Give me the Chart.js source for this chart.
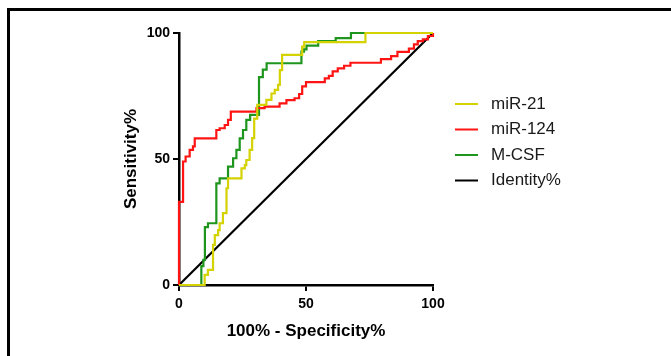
<!DOCTYPE html>
<html>
<head>
<meta charset="utf-8">
<script src="https://cdn.jsdelivr.net/npm/chart.js@4/dist/chart.umd.min.js"></script>
<style>
  body { margin: 0; background: #fff; overflow: hidden; }
  #frame { position: absolute; left: 7px; top: 8px; width: 700px; height: 400px; border: 3px solid #000; }
  #wrap { position: absolute; left: 0; top: 0; width: 671px; height: 356px; }
</style>
</head>
<body>
<div id="frame"></div>
<div id="wrap"><canvas id="chart" width="671" height="356"></canvas></div>
<script>
// ROC curves, x = 100% - specificity, y = sensitivity
const mir21X = [0, 10.1, 11.4, 13.4, 14.1, 15.4, 16, 17.3, 18.7, 19.3, 24.6, 25.9, 26.5, 27.8, 28.8, 29.6, 30.8, 34.4, 36.4, 37.7, 39, 39.7, 40.6, 48.5, 49.3, 73.4, 100]
const mir21Y = [0, 4, 6, 15.9, 19.8, 21.8, 24.5, 28.5, 38.4, 42.3, 46.3, 47.6, 49.6, 53.6, 58.3, 66, 71.5, 73.5, 76, 77.4, 79.4, 85.3, 91.3, 94.6, 96.4, 100, 100]

const mir124X = [0, 0, 1.6, 2.6, 4.2, 5.5, 6.2, 14.7, 16, 18, 19.3, 20.4, 30.5, 33.7, 39.6, 42.3, 45.5, 47.3, 48.5, 50, 57.4, 59, 60.5, 62.5, 65, 67.5, 79.5, 83.5, 86, 90.5, 92.5, 94, 96, 98, 100]
const mir124Y = [0, 33, 49, 51, 53.6, 55, 58.2, 61.5, 62.2, 63.5, 65.5, 68.8, 70.2, 70.8, 72.1, 73.4, 74.1, 75.8, 78.8, 80.5, 82, 83, 84.8, 86, 87, 88.2, 89.6, 90.8, 92.5, 93.8, 95.5, 96.8, 97.5, 98.8, 100]

const mcsfX = [0, 8.8, 9.6, 10.2, 11.4, 14.7, 16, 19.3, 21.3, 22.6, 23.9, 25.2, 26.5, 28, 31.5, 33, 34.5, 48.2, 49.2, 50.2, 54.8, 61.7, 67.7, 100]
const mcsfY = [0, 7.5, 10, 23, 24.5, 40.3, 42.3, 47, 50.3, 53.6, 58.2, 61.5, 65.5, 67.5, 82.5, 85.5, 88, 92.6, 93.5, 95, 96.8, 98, 100, 100]

const identityX = [0, 100]
const identityY = [0, 100]

const labels = ['miR-21', 'miR-124', 'M-CSF', 'Identity%']
const colors = ['rgb(212, 210, 0)', 'rgb(255, 20, 20)', 'rgb(30, 150, 30)', 'rgb(0, 0, 0)']
const xTicks = [0, 50, 100]
const yTicks = [0, 50, 100]

const toPoints = (xs, ys) => xs.map((x, i) => ({x: x, y: ys[i]}))

const series = [
    {x: mir21X, y: mir21Y, stepped: 'before'},
    {x: mir124X, y: mir124Y, stepped: 'before'},
    {x: mcsfX, y: mcsfY, stepped: 'before'},
    {x: identityX, y: identityY, stepped: false},
]

const datasets = series.map((s, i) => ({
    label: labels[i],
    data: toPoints(s.x, s.y),
    borderColor: colors[i],
    backgroundColor: colors[i],
    borderWidth: 2.2,
    pointRadius: 0,
    stepped: s.stepped,
    tension: 0,
    clip: 4,
}))

// legend drawn to the right like the original figure
const sideLegend = {
    id: 'sideLegend',
    afterDraw(chart) {
        const ctx = chart.ctx
        ctx.save()
        ctx.font = '17px Arial, "Liberation Sans", sans-serif'
        ctx.textBaseline = 'middle'
        chart.data.datasets.forEach((ds, i) => {
            const y = 104 + i * 25.5
            ctx.strokeStyle = ds.borderColor
            ctx.lineWidth = 2
            ctx.beginPath()
            ctx.moveTo(455, y)
            ctx.lineTo(478, y)
            ctx.stroke()
            ctx.fillStyle = '#1a1a1a'
            ctx.fillText(ds.label, 491, y)
        })
        ctx.restore()
    }
}

Chart.defaults.font.family = 'Arial, "Liberation Sans", sans-serif'
Chart.defaults.color = '#000'

const tickFont = {size: 14, weight: 'bold'}
const titleFont = {size: 17, weight: 'bold'}

new Chart(document.getElementById('chart'), {
    type: 'line',
    data: {datasets: datasets},
    options: {
        responsive: false,
        animation: false,
        layout: {padding: {left: 120, right: 238, top: 33, bottom: 10}},
        plugins: {
            legend: {display: false},
            tooltip: {enabled: false},
        },
        scales: {
            x: {
                type: 'linear',
                min: 0,
                max: 100,
                afterFit: (scale) => { scale.height = 61 },
                afterBuildTicks: (scale) => { scale.ticks = xTicks.map(v => ({value: v})) },
                ticks: {font: tickFont, color: '#000', padding: 5, maxRotation: 0},
                grid: {drawOnChartArea: false, drawTicks: true, tickLength: 6, color: '#000', lineWidth: 2},
                border: {display: true, color: '#000', width: 2.5},
                title: {display: true, text: '100% - Specificity%', font: titleFont, color: '#000', padding: {top: 0, bottom: 4}},
            },
            y: {
                min: 0,
                max: 100,
                afterFit: (scale) => { scale.width = 59 },
                afterBuildTicks: (scale) => { scale.ticks = yTicks.map(v => ({value: v})) },
                ticks: {font: tickFont, color: '#000', padding: 3},
                grid: {drawOnChartArea: false, drawTicks: true, tickLength: 6, color: '#000', lineWidth: 2},
                border: {display: true, color: '#000', width: 2.5},
                title: {display: true, text: 'Sensitivity%', font: titleFont, color: '#000', padding: {top: 1, bottom: 0}},
            },
        },
    },
    plugins: [sideLegend],
})
</script>
</body>
</html>
